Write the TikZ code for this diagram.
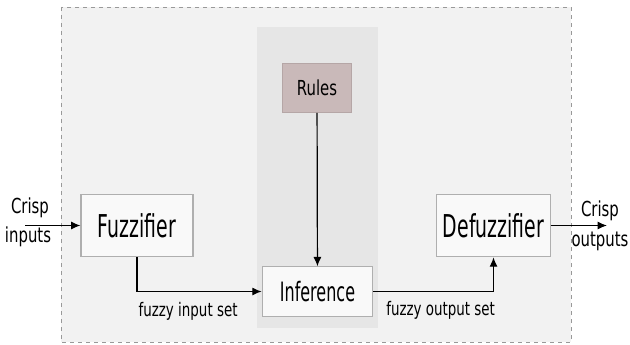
\documentclass[tikz,border=0pt]{standalone}
\usepackage{fontspec}
\setmainfont{DejaVu Sans}
\newfontfamily\bigfont[FakeStretch=0.6]{DejaVu Sans}
\newfontfamily\smallfont[FakeStretch=0.72]{DejaVu Sans}
\usepackage{tikz}
\usetikzlibrary{
  arrows.meta,
  positioning
}
\definecolor{outerbg}{HTML}{F2F2F2}
\definecolor{columnbg}{HTML}{E6E6E6}
\definecolor{rulesbg}{HTML}{C9B9B9}
\definecolor{boxbg}{HTML}{F9F9F9}
\definecolor{boxline}{HTML}{AFAFAF}

\begin{document}
\begin{tikzpicture}[x=0.75pt, y=-0.75pt,
    block/.style={draw=boxline, fill=boxbg, line width=0.8pt, inner sep=0pt},
    flow/.style={line width=0.9pt, -{Latex[length=7pt, width=6pt]}},
    tag/.style={font=\smallfont\fontsize{14}{16}\selectfont, inner sep=0pt}
  ]
    \useasboundingbox (0,0) rectangle (630,345);

    % Outer system (dashed frame) and rule base column
    \fill[white] (0,0) rectangle (630,345);
    \draw[gray!80, dashed, fill=outerbg, line width=0.6pt] (61,7) rectangle (571,342);
    \fill[columnbg] (257,27) rectangle (378,328);

    % Blocks
    \node[block, minimum width=84pt, minimum height=47pt,
          font=\bigfont\fontsize{23.6}{26}\selectfont] (fuzz) at (137,225.5) {Fuzzifier};
    \node[block, minimum width=83pt, minimum height=37pt,
          font=\bigfont\fontsize{20}{22}\selectfont] (infer) at (317.5,291.5) {Inference};
    \node[block, minimum width=85pt, minimum height=47pt,
          font=\bigfont\fontsize{23.6}{26}\selectfont] (defuzz) at (493.5,225.5) {Defuzzifier};
    \node[draw=rulesbg!90!black, fill=rulesbg, line width=0.4pt, inner sep=0pt,
          minimum width=52pt, minimum height=37pt,
          font=\smallfont\fontsize{15.5}{17}\selectfont] (rules) at (317,88) {Rules};

    % Crisp inputs and outputs
    \coordinate (cin) at (25,225.5);
    \coordinate (cout) at (607,225.5);
    \node[tag, font=\smallfont\fontsize{15.5}{17}\selectfont] (crispin) at (30,208) {Crisp};
    \node[tag, font=\smallfont\fontsize{15.5}{17}\selectfont] (inputs) at (28,237) {inputs};
    \node[tag, font=\smallfont\fontsize{15.5}{17}\selectfont] (crispout) at (600,211) {Crisp};
    \node[tag, font=\smallfont\fontsize{15.5}{17}\selectfont] (outputs) at (600,241) {outputs};
    \draw[flow] (cin) -- (fuzz.west);
    \draw[flow] (defuzz.east) -- (cout);

    % Fuzzy sets between blocks
    \draw[flow] (fuzz.south) |- (infer.west) node[tag, pos=0.705, below=8pt] (inset) {fuzzy input set};
    \draw[flow] (infer.east) -| (defuzz.south) node[tag, pos=0.28, below=7pt] (outset) {fuzzy output set};
    \draw[flow] (rules) -- (infer);
\end{tikzpicture}
\end{document}
